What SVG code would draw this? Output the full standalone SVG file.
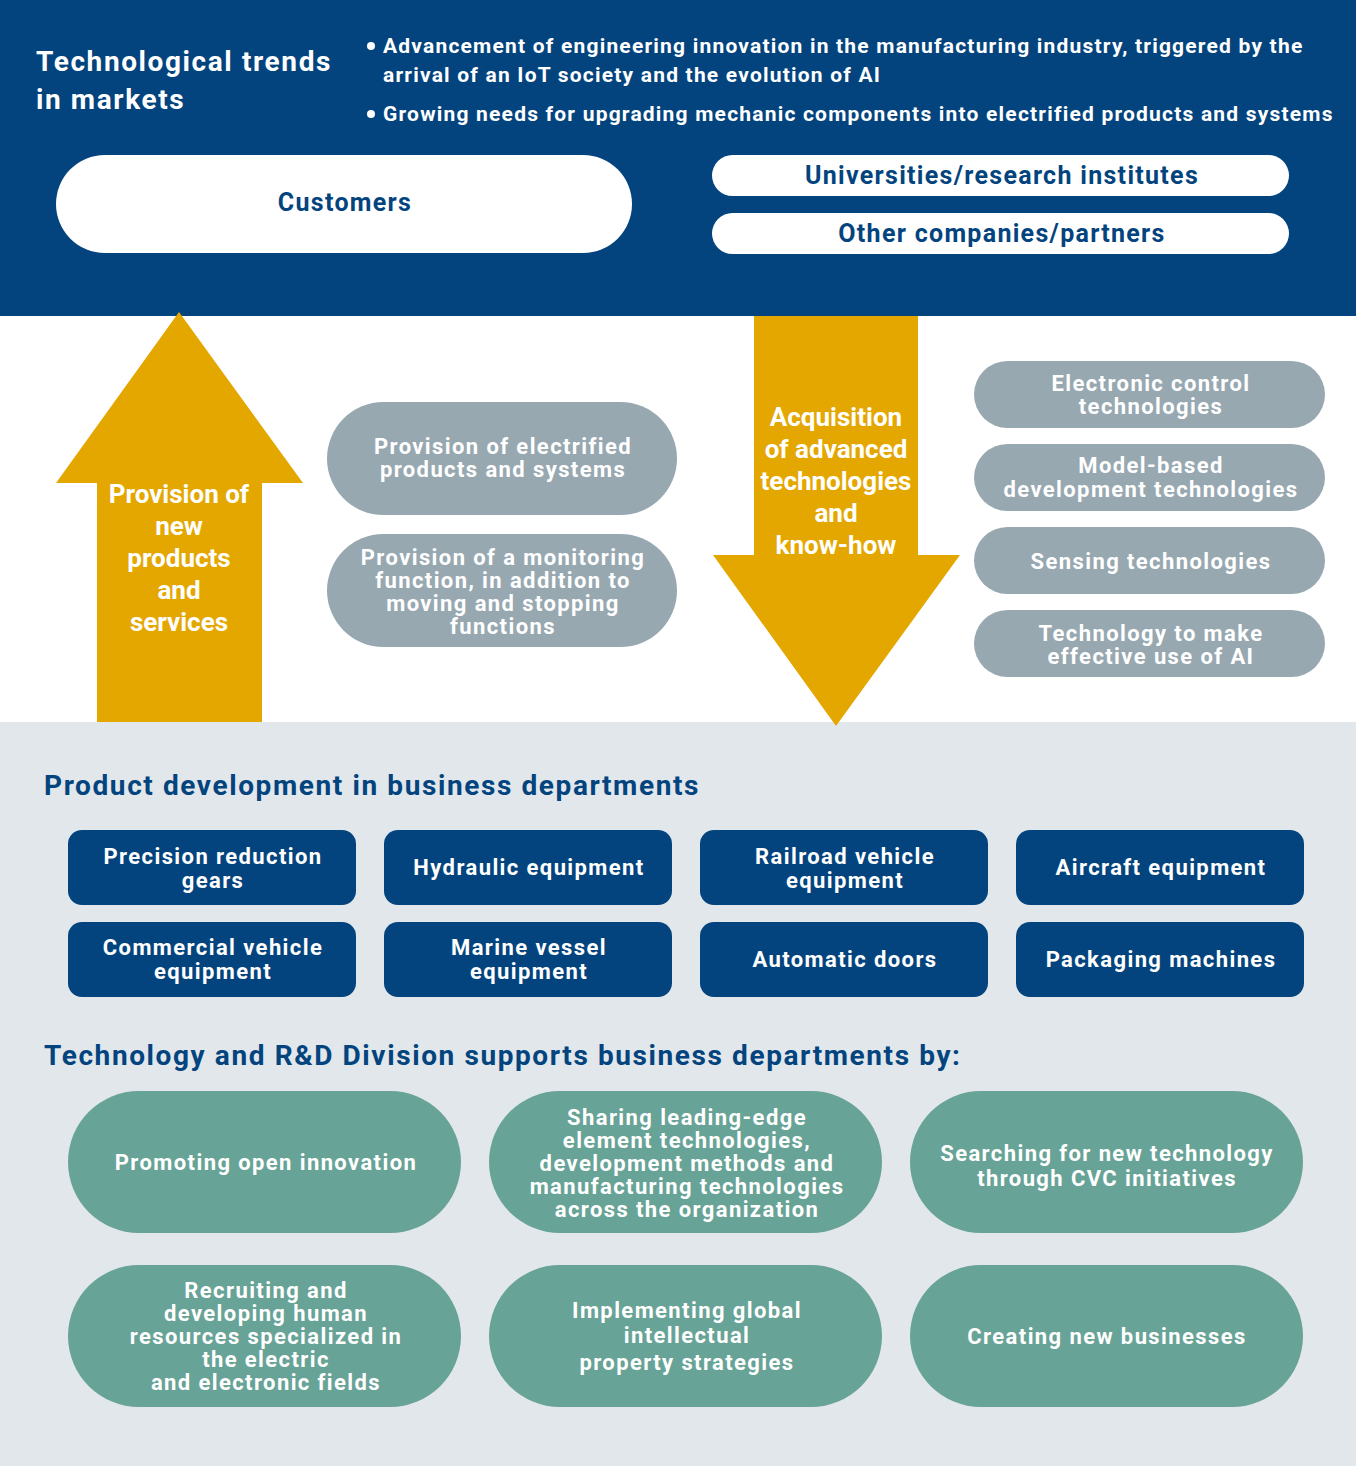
<svg xmlns="http://www.w3.org/2000/svg" width="1356" height="1466" viewBox="0 0 1356 1466">
<style>
text{font-family:Roboto,"Liberation Sans",sans-serif;font-weight:700}
.w{fill:#ffffff}
.n{fill:#03447E}
.c{text-anchor:middle}
.hdr{font-size:28px;letter-spacing:1.6px}
.bul{font-size:21px;letter-spacing:1.2px}
.pillw{fill:#ffffff}
.gray{fill:#97A8B1}
.navy{fill:#03447E}
.teal{fill:#67A396}
.arrow{fill:#E4A700}
.t22{font-size:22px;letter-spacing:1.4px}
.t25{font-size:25px;letter-spacing:1.3px}
.t26{font-size:26px}
</style>
<rect x="0" y="0" width="1356" height="316" fill="#03447E"/>
<rect x="0" y="316" width="1356" height="406" fill="#ffffff"/>
<rect x="0" y="722" width="1356" height="744" fill="#E2E7EB"/>

<g id="trends">
<text class="w hdr" x="36" y="71">Technological trends</text>
<text class="w hdr" x="36" y="109">in markets</text>
<circle cx="371" cy="46" r="4" fill="#fff"/>
<text class="w bul" x="383" y="53">Advancement of engineering innovation in the manufacturing industry, triggered by the</text>
<text class="w bul" x="383" y="82">arrival of an IoT society and the evolution of AI</text>
<circle cx="371" cy="114" r="4" fill="#fff"/>
<text class="w bul" x="383" y="121">Growing needs for upgrading mechanic components into electrified products and systems</text>
</g>

<g id="customers">
<rect class="pillw" x="56" y="155" width="576" height="98" rx="49"/>
<text class="n c t25" x="345" y="211">Customers</text>
</g>
<g id="universities">
<rect class="pillw" x="712" y="155" width="577" height="41" rx="20.5"/>
<text class="n c t25" x="1002" y="184">Universities/research institutes</text>
</g>
<g id="partners">
<rect class="pillw" x="712" y="213" width="577" height="41" rx="20.5"/>
<text class="n c t25" x="1002" y="242">Other companies/partners</text>
</g>

<g id="connectors">
<g id="arrow-up">
<polygon class="arrow" points="179,312 303,483 262,483 262,722 97,722 97,483 56,483"/>
<text class="w c t26" x="179" y="503">Provision of</text>
<text class="w c t26" x="179" y="535">new</text>
<text class="w c t26" x="179" y="567">products</text>
<text class="w c t26" x="179" y="599">and</text>
<text class="w c t26" x="179" y="631">services</text>
</g>
<g id="arrow-down">
<polygon class="arrow" points="754,316 918,316 918,555 960,555 836,726 713,555 754,555"/>
<text class="w c t26" x="836" y="426">Acquisition</text>
<text class="w c t26" x="836" y="458">of advanced</text>
<text class="w c t26" x="836" y="490">technologies</text>
<text class="w c t26" x="836" y="522">and</text>
<text class="w c t26" x="836" y="554">know-how</text>
</g>
</g>

<g id="electrified">
<rect class="gray" x="327" y="402" width="350" height="113" rx="56.5"/>
<text class="w c t22" x="503" y="454">Provision of electrified</text>
<text class="w c t22" x="503" y="477">products and systems</text>
</g>
<g id="monitoring">
<rect class="gray" x="327" y="534" width="350" height="113" rx="56.5"/>
<text class="w c t22" x="503" y="565">Provision of a monitoring</text>
<text class="w c t22" x="503" y="588">function, in addition to</text>
<text class="w c t22" x="503" y="611">moving and stopping</text>
<text class="w c t22" x="503" y="634">functions</text>
</g>

<g id="electronic-control">
<rect class="gray" x="974" y="361" width="351" height="67" rx="33.5"/>
<text class="w c t22" x="1151" y="391">Electronic control</text>
<text class="w c t22" x="1151" y="414">technologies</text>
</g>
<g id="model-based">
<rect class="gray" x="974" y="444" width="351" height="67" rx="33.5"/>
<text class="w c t22" x="1151" y="473">Model-based</text>
<text class="w c t22" x="1151" y="497">development technologies</text>
</g>
<g id="sensing">
<rect class="gray" x="974" y="527" width="351" height="67" rx="33.5"/>
<text class="w c t22" x="1151" y="569">Sensing technologies</text>
</g>
<g id="ai">
<rect class="gray" x="974" y="610" width="351" height="67" rx="33.5"/>
<text class="w c t22" x="1151" y="641">Technology to make</text>
<text class="w c t22" x="1151" y="664">effective use of AI</text>
</g>

<text class="n hdr" x="44" y="795">Product development in business departments</text>

<g id="precision">
<rect class="navy" x="68" y="830" width="288" height="75" rx="14"/>
<text class="w c t22" x="213" y="864">Precision reduction</text>
<text class="w c t22" x="213" y="888">gears</text>
</g>
<g id="hydraulic">
<rect class="navy" x="384" y="830" width="288" height="75" rx="14"/>
<text class="w c t22" x="529" y="875">Hydraulic equipment</text>
</g>
<g id="railroad">
<rect class="navy" x="700" y="830" width="288" height="75" rx="14"/>
<text class="w c t22" x="845" y="864">Railroad vehicle</text>
<text class="w c t22" x="845" y="888">equipment</text>
</g>
<g id="aircraft">
<rect class="navy" x="1016" y="830" width="288" height="75" rx="14"/>
<text class="w c t22" x="1161" y="875">Aircraft equipment</text>
</g>
<g id="commercial">
<rect class="navy" x="68" y="922" width="288" height="75" rx="14"/>
<text class="w c t22" x="213" y="955">Commercial vehicle</text>
<text class="w c t22" x="213" y="979">equipment</text>
</g>
<g id="marine">
<rect class="navy" x="384" y="922" width="288" height="75" rx="14"/>
<text class="w c t22" x="529" y="955">Marine vessel</text>
<text class="w c t22" x="529" y="979">equipment</text>
</g>
<g id="doors">
<rect class="navy" x="700" y="922" width="288" height="75" rx="14"/>
<text class="w c t22" x="845" y="967">Automatic doors</text>
</g>
<g id="packaging">
<rect class="navy" x="1016" y="922" width="288" height="75" rx="14"/>
<text class="w c t22" x="1161" y="967">Packaging machines</text>
</g>

<text class="n hdr" x="44" y="1065">Technology and R&amp;D Division supports business departments by:</text>

<g id="open-innovation">
<rect class="teal" x="68" y="1091" width="393" height="142" rx="71"/>
<text class="w c t22" x="266" y="1170">Promoting open innovation</text>
</g>
<g id="sharing">
<rect class="teal" x="489" y="1091" width="393" height="142" rx="71"/>
<text class="w c t22" x="687" y="1125">Sharing leading-edge</text>
<text class="w c t22" x="687" y="1148">element technologies,</text>
<text class="w c t22" x="687" y="1171">development methods and</text>
<text class="w c t22" x="687" y="1194">manufacturing technologies</text>
<text class="w c t22" x="687" y="1217">across the organization</text>
</g>
<g id="cvc">
<rect class="teal" x="910" y="1091" width="393" height="142" rx="71"/>
<text class="w c t22" x="1107" y="1161">Searching for new technology</text>
<text class="w c t22" x="1107" y="1186">through CVC initiatives</text>
</g>
<g id="recruiting">
<rect class="teal" x="68" y="1265" width="393" height="142" rx="71"/>
<text class="w c t22" x="266" y="1298">Recruiting and</text>
<text class="w c t22" x="266" y="1321">developing human</text>
<text class="w c t22" x="266" y="1344">resources specialized in</text>
<text class="w c t22" x="266" y="1367">the electric</text>
<text class="w c t22" x="266" y="1390">and electronic fields</text>
</g>
<g id="ip">
<rect class="teal" x="489" y="1265" width="393" height="142" rx="71"/>
<text class="w c t22" x="687" y="1318">Implementing global</text>
<text class="w c t22" x="687" y="1343">intellectual</text>
<text class="w c t22" x="687" y="1370">property strategies</text>
</g>
<g id="new-businesses">
<rect class="teal" x="910" y="1265" width="393" height="142" rx="71"/>
<text class="w c t22" x="1107" y="1344">Creating new businesses</text>
</g>
</svg>
